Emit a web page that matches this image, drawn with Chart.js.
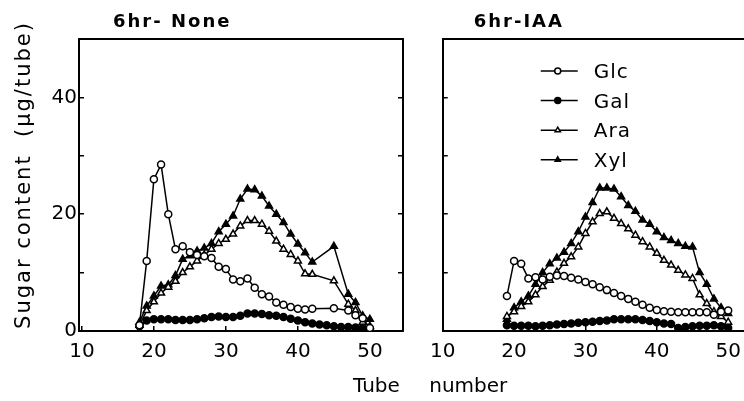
<!DOCTYPE html>
<html>
<head>
<meta charset="utf-8">
<script src="https://cdn.jsdelivr.net/npm/chart.js@4.4.1/dist/chart.umd.min.js"></script>
<style>
  html, body { margin: 0; padding: 0; background: #fff; overflow: hidden; }
  #wrap { position: relative; width: 744px; height: 401px; overflow: hidden; }
  #left { position: absolute; left: 0; top: 0; width: 420px; height: 401px; }
  #right { position: absolute; left: 416px; top: 0; width: 360px; height: 401px; }
  #xtitle { position: absolute; left: 353px; top: 373px; font: 20px 'DejaVu Sans'; line-height: 24px;
            white-space: pre; word-spacing: 23px; color: #000; }
</style>
</head>
<body>
<div id="wrap">
  <div id="left"><canvas id="chartNone"></canvas></div>
  <div id="right"><canvas id="chartIAA"></canvas></div>
  <div id="xtitle">Tube number</div>
</div>
<script>
// tube numbers (x) and sugar content in µg/tube (y)
var tubes = [18, 19, 20, 21, 22, 23, 24, 25, 26, 27, 28, 29, 30, 31, 32, 33, 34,
             35, 36, 37, 38, 39, 40, 41, 42, 43, 44, 45, 46, 47, 48, 49, 50];

var sugars = ['Glc', 'Gal', 'Ara', 'Xyl'];

// 6hr - None
var noneGlc = [1, 12, 26, 28.5, 20, 14, 14.5, 13.5, 13, 12.8, 12.5, 11, 10.6, 8.8, 8.5, 9, 7.4,
               6.3, 5.9, 4.9, 4.5, 4.1, 3.8, 3.7, 3.8, null, null, 3.9, null, 3.5, 2.7, 2.2, 0.5];
var noneGal = [0.8, 1.8, 2, 2, 2, 1.9, 1.9, 1.9, 2, 2.2, 2.4, 2.5, 2.4, 2.4, 2.6, 3, 3,
               2.9, 2.7, 2.6, 2.4, 2.1, 1.8, 1.5, 1.3, 1.1, 1, 0.8, 0.7, 0.7, 0.6, 0.5, 0.3];
var noneAra = [1, 3.5, 5, 6.5, 7.5, 8.5, 10, 11, 12, 13, 14, 15, 15.7, 16.6, 18, 18.9, 18.9,
               18.3, 17.1, 15.4, 14, 13.1, 12, 9.8, 9.7, null, null, 8.6, null, 4.6, 3.5, 1.5, 0.8];
var noneXyl = [1.5, 4.3, 6, 7.7, 7.9, 9.5, 12.3, 12.9, 13.7, 14.2, 15, 17, 18.3, 19.7, 22.6, 24.3, 24.2,
               23.1, 21.4, 20, 18.6, 16.6, 14.9, 13.4, 11.8, null, null, 14.5, null, 6.3, 4.9, 2.6, 2];

// 6hr - IAA
var iaaGlc = [null, 6, 12, 11.5, 9, 9.2, 8.8, 9.3, 9.5, 9.4, 9.1, 8.8, 8.4, 8, 7.5, 7, 6.5,
              6, 5.5, 5, 4.5, 4, 3.6, 3.4, 3.3, 3.2, 3.2, 3.2, 3.2, 3.2, 2.8, 3.3, 3.5];
var iaaGal = [null, 1, 0.9, 0.9, 0.9, 0.8, 0.9, 1, 1.1, 1.2, 1.3, 1.4, 1.5, 1.6, 1.7, 1.8, 2,
              2, 2, 2, 1.9, 1.7, 1.5, 1.3, 1.2, 0.5, 0.7, 0.8, 0.9, 0.9, 1, 0.8, 0.5];
var iaaAra = [null, 2.5, 3.3, 4.2, 5, 6.2, 7.6, 8.7, 10.1, 11.6, 12.7, 14.4, 16.7, 18.7, 20.1, 20.4, 19.3,
              18.4, 17.5, 16.4, 15.3, 14.4, 13.3, 12.1, 11.3, 10.4, 9.6, 9, 6.2, 4.7, 3.3, 2.5, 1.5];
var iaaXyl = [null, 2, 4, 5, 6, 8, 10, 11.5, 12.5, 13.5, 15, 17, 19.5, 22, 24.5, 24.5, 24.3,
              23, 21.5, 20.5, 19, 18.3, 17, 16, 15.5, 15, 14.5, 14.4, 10, 8, 5.5, 4, 3];

var xTicks = [10, 20, 30, 40, 50];
var yTicks = [0, 10, 20, 30, 40, 50];
var yLabels = [0, 20, 40];

Chart.defaults.font.family = "'DejaVu Sans'";
Chart.defaults.font.size = 20;
Chart.defaults.color = '#000';

var markers = [
  { style: 'circle', fill: '#fff' },
  { style: 'circle', fill: '#000' },
  { style: 'triangle', fill: '#fff' },
  { style: 'triangle', fill: '#000' }
];

function makeSets(series) {
  return sugars.map(function (name, i) {
    return {
      label: name,
      data: tubes.map(function (t, j) { return { x: t, y: series[i][j] }; }),
      borderColor: '#000',
      borderWidth: 1.5,
      pointStyle: markers[i].style,
      pointRadius: markers[i].style === 'circle' ? 3.5 : 4,
      pointBorderWidth: 1.5,
      pointBorderColor: '#000',
      pointBackgroundColor: markers[i].fill,
      spanGaps: true,
      tension: 0
    };
  });
}

function setTicks(values) {
  return function (scale) {
    scale.ticks = values.map(function (v) { return { value: v }; });
  };
}

function makeScales(xmin, xmax, yAxisWidth, showY) {
  return {
    x: {
      type: 'linear', position: 'bottom', min: xmin, max: xmax,
      afterBuildTicks: setTicks(xTicks),
      ticks: { padding: 14, maxRotation: 0 },
      grid: { drawOnChartArea: false, tickLength: -5, color: '#000', lineWidth: 1.5 },
      border: { color: '#000', width: 2 },
      afterFit: function (s) { s.height = 70; }
    },
    y: {
      type: 'linear', position: 'left', min: 0, max: 50,
      afterBuildTicks: setTicks(yTicks),
      ticks: {
        display: showY, padding: 7,
        callback: function (v) { return yLabels.indexOf(v) >= 0 ? v : ''; }
      },
      grid: { drawOnChartArea: false, tickLength: -5, color: '#000', lineWidth: 1.5 },
      border: { color: '#000', width: 2 },
      afterFit: function (s) { s.width = yAxisWidth; }
    },
    xTop: {
      type: 'linear', position: 'top', min: xmin, max: xmax,
      ticks: { display: false }, grid: { display: false },
      border: { color: '#000', width: 2 },
      afterFit: function (s) { s.height = 0; }
    },
    yRight: {
      type: 'linear', position: 'right', min: 0, max: 50,
      afterBuildTicks: setTicks(yTicks),
      ticks: { display: false },
      grid: { drawOnChartArea: false, tickLength: -5, color: '#000', lineWidth: 1.5 },
      border: { color: '#000', width: 2 },
      afterFit: function (s) { s.width = 0; }
    }
  };
}

function panelTitle(text, dx) {
  return {
    id: 'panelTitle',
    afterDraw: function (chart) {
      var ctx = chart.ctx;
      ctx.save();
      ctx.fillStyle = '#000';
      ctx.font = "bold 18px 'DejaVu Sans'";
      ctx.letterSpacing = '2px';
      ctx.textAlign = 'left';
      ctx.textBaseline = 'alphabetic';
      ctx.fillText(text, chart.chartArea.left + dx, chart.chartArea.top - 12);
      ctx.restore();
    }
  };
}

var yTitle = {
  id: 'yTitle',
  afterDraw: function (chart) {
    var ctx = chart.ctx;
    ctx.save();
    ctx.translate(25, 175);
    ctx.rotate(-Math.PI / 2);
    ctx.fillStyle = '#000';
    ctx.font = "21px 'DejaVu Sans'";
    ctx.letterSpacing = '2px';
    ctx.textAlign = 'center';
    ctx.textBaseline = 'middle';
    ctx.fillText('Sugar content  (\u03bcg/tube)', 0, 0);
    ctx.restore();
  }
};

var sugarLegend = {
  id: 'sugarLegend',
  afterDraw: function (chart) {
    var ctx = chart.ctx;
    var a = chart.chartArea;
    ctx.save();
    chart.data.datasets.forEach(function (ds, i) {
      var base = a.top + 39 + i * 29.6;
      var ly = base - 7;
      var x0 = a.left + 98;
      ctx.strokeStyle = '#000';
      ctx.lineWidth = 1.5;
      ctx.beginPath();
      ctx.moveTo(x0, ly);
      ctx.lineTo(x0 + 37, ly);
      ctx.stroke();
      ctx.fillStyle = ds.pointBackgroundColor;
      ctx.strokeStyle = '#000';
      Chart.helpers.drawPoint(ctx, { pointStyle: ds.pointStyle, radius: 3, borderWidth: 1.5 }, x0 + 17, ly);
      ctx.fillStyle = '#000';
      ctx.font = "20px 'DejaVu Sans'";
      ctx.letterSpacing = '1px';
      ctx.textAlign = 'left';
      ctx.textBaseline = 'alphabetic';
      ctx.fillText(ds.label, x0 + 53, base);
    });
    ctx.restore();
  }
};

new Chart(document.getElementById('chartNone'), {
  type: 'line',
  data: { datasets: makeSets([noneGlc, noneGal, noneAra, noneXyl]) },
  options: {
    responsive: true,
    maintainAspectRatio: false,
    animation: false,
    layout: { padding: { top: 39, right: 17, left: 0, bottom: 0 } },
    plugins: { legend: { display: false }, tooltip: { enabled: false } },
    scales: makeScales(9.6, 54.6, 79, true)
  },
  plugins: [panelTitle('6hr- None', 34), yTitle]
});

new Chart(document.getElementById('chartIAA'), {
  type: 'line',
  data: { datasets: makeSets([iaaGlc, iaaGal, iaaAra, iaaXyl]) },
  options: {
    responsive: true,
    maintainAspectRatio: false,
    animation: false,
    layout: { padding: { top: 39, right: 20, left: 0, bottom: 0 } },
    plugins: { legend: { display: false }, tooltip: { enabled: false } },
    scales: makeScales(10, 53.9, 16, false)
  },
  plugins: [panelTitle('6hr-IAA', 31), sugarLegend]
});
</script>
</body>
</html>
